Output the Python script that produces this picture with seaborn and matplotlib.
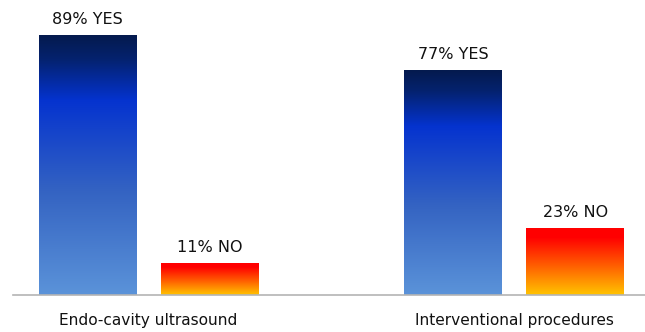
import numpy as np
import pandas as pd
import matplotlib
matplotlib.use("Agg")
import matplotlib.pyplot as plt
import seaborn as sns
from matplotlib.colors import LinearSegmentedColormap

categories = ["Endo-cavity ultrasound", "Interventional procedures"]
answers = ["YES", "NO"]
yes_values = [89, 77]
no_values = [11, 23]

df = pd.DataFrame({
    "category": categories * 2,
    "answer": ["YES"] * len(categories) + ["NO"] * len(categories),
    "value": yes_values + no_values,
})

sns.set_theme(style="white")
plt.rcParams['font.family'] = ['DejaVu Sans']

fig = plt.figure(figsize=(6.45, 3.32), dpi=100)
ax = fig.add_axes([13 / 645, 37 / 332, 632 / 645, 292 / 332])

sns.barplot(data=df, x="category", y="value", hue="answer", hue_order=answers,
            order=categories, width=0.668, gap=0.2, ax=ax, legend=False,
            palette={"YES": "#2a55c0", "NO": "#ff5000"}, errorbar=None)

xlim = (-0.3707, 1.358)
ylim = (0, 100)

blue = LinearSegmentedColormap.from_list("blue", [
    (0.0, "#051a4e"), (0.09, "#04226e"), (0.25, "#0533cf"),
    (0.6, "#3463c2"), (1.0, "#5b93d9")])
red = LinearSegmentedColormap.from_list("red", [
    (0.0, "#ff0000"), (0.15, "#ff0000"), (0.55, "#ff5a00"), (1.0, "#ffc400")])
cmaps = {"YES": blue, "NO": red}

grad = np.linspace(0, 1, 256).reshape(-1, 1)
for ans, container in zip(answers, ax.containers):
    for patch in container.patches:
        x0, y0 = patch.get_x(), patch.get_y()
        w, h = patch.get_width(), patch.get_height()
        im = ax.imshow(grad, cmap=cmaps[ans], aspect="auto", origin="upper",
                       extent=(x0, x0 + w, y0, y0 + h), zorder=patch.get_zorder() + 0.1,
                       interpolation="bilinear")
        im.set_clip_path(patch)
        patch.set_facecolor("none")
        patch.set_edgecolor("none")
    vals = yes_values if ans == "YES" else no_values
    ax.bar_label(container, labels=[f"{v}% {ans}" for v in vals], padding=6,
                 fontsize=11.5, color="#111111")

ax.set_xlim(*xlim)
ax.set_ylim(*ylim)
ax.set_xlabel("")
ax.set_ylabel("")
ax.set_yticks([])
ax.tick_params(axis="x", length=0, pad=13, labelsize=11.1, labelcolor="#111111")
for s in ["top", "right", "left"]:
    ax.spines[s].set_visible(False)
ax.spines["bottom"].set_color("#b4b4b4")
ax.spines["bottom"].set_linewidth(1.2)

fig.savefig("out.png", dpi=100)
